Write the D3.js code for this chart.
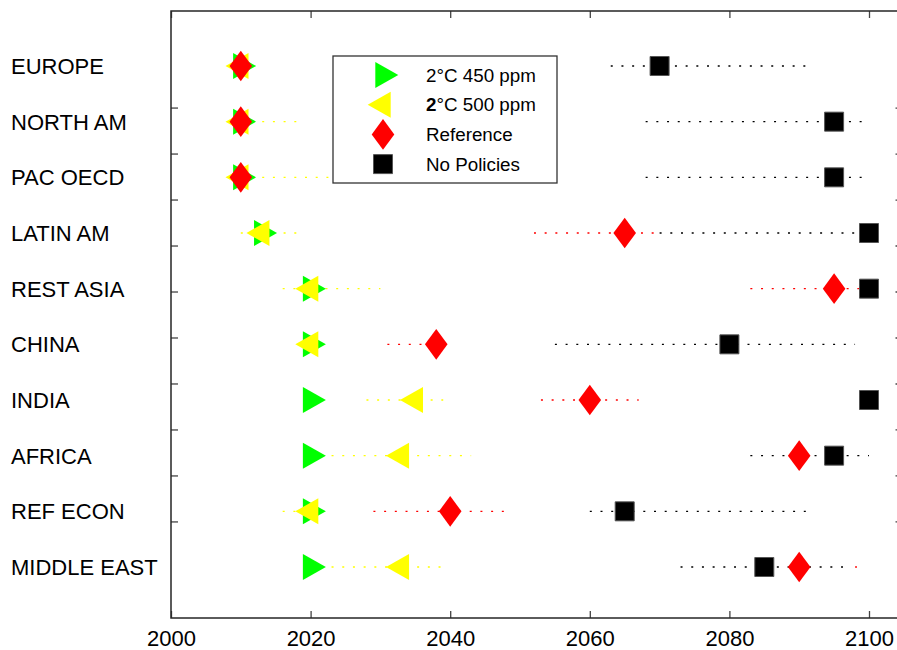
<!DOCTYPE html>
<html>
<head>
<meta charset="utf-8">
<script src="https://cdn.jsdelivr.net/npm/d3@7"></script>
<style>
  body { margin: 0; background: #fff; }
  svg { display: block; font-family: "Liberation Sans", Arial, sans-serif; }
</style>
</head>
<body>
<div id="container"></div>
<script>
// regions, top to bottom
var regions = ["EUROPE", "NORTH AM", "PAC OECD", "LATIN AM", "REST ASIA",
               "CHINA", "INDIA", "AFRICA", "REF ECON", "MIDDLE EAST"];
var scenarioNames = ["2°C 450 ppm", "2°C 500 ppm", "Reference", "No Policies"];

// median year per scenario
var year450 = [2010, 2010, 2010, 2013, 2020, 2020, 2020, 2020, 2020, 2020];
var year500 = [2010, 2010, 2010, 2013, 2020, 2020, 2035, 2033, 2020, 2033];
var yearRef = [2010, 2010, 2010, 2065, 2095, 2038, 2060, 2090, 2040, 2090];
var yearNoP = [2070, 2095, 2095, 2100, 2100, 2080, 2100, 2095, 2065, 2085];

// ranges (dotted lines)
var lo450 = [2010, 2010, 2010, 2013, 2020, 2020, 2020, 2020, 2020, 2020];
var hi450 = [2010, 2010, 2010, 2013, 2020, 2020, 2020, 2020, 2020, 2020];
var lo500 = [2010, 2010, 2010, 2010, 2016, 2020, 2028, 2023, 2016, 2023];
var hi500 = [2013, 2018, 2023, 2018, 2030, 2020, 2039, 2043, 2021, 2039];
var loRef = [2010, 2010, 2010, 2052, 2083, 2031, 2053, 2090, 2029, 2098];
var hiRef = [2010, 2013, 2013, 2070, 2100, 2038, 2067, 2090, 2048, 2099];
var loNoP = [2063, 2068, 2068, 2070, 2100, 2055, 2100, 2083, 2060, 2073];
var hiNoP = [2092, 2100, 2100, 2098, 2100, 2098, 2100, 2100, 2092, 2097];

var xTicks = [2000, 2020, 2040, 2060, 2080, 2100];
var yTicks = [1, 2, 3, 4, 5, 6, 7, 8, 9, 10];

var series = [
  {name: scenarioNames[0], year: year450, lo: lo450, hi: hi450, color: "#00ff00", shape: "right"},
  {name: scenarioNames[1], year: year500, lo: lo500, hi: hi500, color: "#ffff00", shape: "left"},
  {name: scenarioNames[2], year: yearRef, lo: loRef, hi: hiRef, color: "#ff0000", shape: "diamond"},
  {name: scenarioNames[3], year: yearNoP, lo: loNoP, hi: hiNoP, color: "#000000", shape: "square"}
];

var W = 897, H = 650;
var plotL = 171, plotT = 11, plotB = 618;

var svg = d3.select("#container").append("svg").attr("width", W).attr("height", H);

var x = d3.scaleLinear().domain([2000, 2100]).range([plotL, 869]);
var plotR = x(2104.8);
var yRow = d3.scalePoint().domain(regions).range([66, 567]);
var yNum = d3.scaleLinear().domain([-1.1, 12.1]).range([plotT, plotB]);

function markerPath(shape) {
  if (shape == "right") return "M-7.7,-13L15.3,0L-7.7,13Z";
  if (shape == "left") return "M7.7,-13L-15.3,0L7.7,13Z";
  if (shape == "diamond") return "M0,-15.3L11.3,0L0,15.3L-11.3,0Z";
  return "M-9.5,-9.5H9.5V9.5H-9.5Z";
}

// axes, ticks inward
var gx = svg.append("g").attr("transform", "translate(0," + plotB + ")")
  .call(d3.axisBottom(x).tickValues(xTicks).tickFormat(d3.format("d"))
    .tickSizeInner(-7).tickSizeOuter(0).tickPadding(12));
svg.append("g").attr("transform", "translate(0," + plotT + ")")
  .call(d3.axisTop(x).tickValues(xTicks).tickFormat("").tickSizeInner(-7).tickSizeOuter(0));
svg.append("g").attr("transform", "translate(" + plotL + ",0)")
  .call(d3.axisLeft(yNum).tickValues(yTicks).tickFormat("").tickSizeInner(-7).tickSizeOuter(0));
svg.append("g").attr("transform", "translate(" + plotR + ",0)")
  .call(d3.axisRight(yNum).tickValues(yTicks).tickFormat("").tickSizeInner(-7).tickSizeOuter(0));

svg.selectAll(".domain").remove();
svg.selectAll(".tick line").attr("stroke", "#444").attr("stroke-width", 1.3);
gx.selectAll("text").attr("font-size", 22).attr("fill", "#000")
  .attr("font-family", "Liberation Sans, Arial, sans-serif");

// frame
svg.append("rect")
  .attr("x", plotL).attr("y", plotT)
  .attr("width", plotR - plotL).attr("height", plotB - plotT)
  .attr("fill", "none").attr("stroke", "#262626").attr("stroke-width", 1.5);

// region labels
svg.append("g").selectAll("text")
  .data(regions).enter().append("text")
  .attr("x", 11).attr("y", function(d) { return yRow(d); })
  .attr("dy", "0.36em")
  .attr("font-size", 22).attr("fill", "#000")
  .text(function(d) { return d; });

// dotted range lines
series.forEach(function(s) {
  svg.append("g").selectAll("line")
    .data(regions).enter().append("line")
    .attr("x1", function(d, i) { return x(s.lo[i]); })
    .attr("x2", function(d, i) { return x(s.hi[i]); })
    .attr("y1", function(d) { return yRow(d); })
    .attr("y2", function(d) { return yRow(d); })
    .attr("stroke", s.color).attr("stroke-width", 1.4)
    .attr("stroke-dasharray", "2,8.7");
});

// markers
series.forEach(function(s) {
  svg.append("g").selectAll("path")
    .data(regions).enter().append("path")
    .attr("transform", function(d, i) { return "translate(" + x(s.year[i]) + "," + yRow(d) + ")"; })
    .attr("d", markerPath(s.shape))
    .attr("fill", s.color)
    .attr("stroke", s.shape == "square" ? "#555" : "none")
    .attr("stroke-width", 1);
});

// legend
var legend = svg.append("g").attr("transform", "translate(333,56)");
legend.append("rect").attr("width", 224).attr("height", 127)
  .attr("fill", "#fff").attr("stroke", "#333").attr("stroke-width", 1.3);
var items = legend.selectAll("g.item").data(series).enter().append("g")
  .attr("class", "item")
  .attr("transform", function(d, i) { return "translate(0," + (19 + i * 29.7) + ")"; });
items.append("path")
  .attr("transform", "translate(50,0)")
  .attr("d", function(d) { return markerPath(d.shape); })
  .attr("fill", function(d) { return d.color; })
  .attr("stroke", function(d) { return d.shape == "square" ? "#555" : "none"; });
var lt = items.append("text").attr("x", 93).attr("dy", "0.36em")
  .attr("font-size", 18.8).attr("fill", "#000");
lt.each(function(d, i) {
  var t = d3.select(this);
  if (i == 1) {
    t.append("tspan").attr("font-weight", "bold").text(d.name.slice(0, 1));
    t.append("tspan").text(d.name.slice(1));
  } else {
    t.text(d.name);
  }
});
</script>
</body>
</html>
